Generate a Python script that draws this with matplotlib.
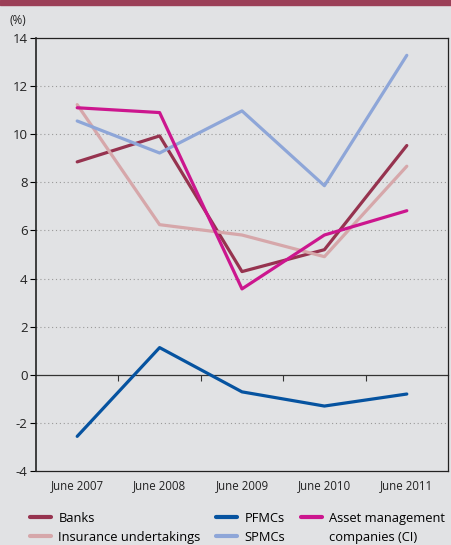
from matplotlib import pyplot as plt
from matplotlib.lines import Line2D
import numpy as np

years = ["June 2007", "June 2008", "June 2009", "June 2010", "June 2011"]
banks = [8.85, 9.93, 4.29, 5.20, 9.53]
insurance = [11.23, 6.24, 5.81, 4.91, 8.67]
pfmcs = [-2.56, 1.13, -0.71, -1.30, -0.80]
spmcs = [10.55, 9.22, 10.97, 7.86, 13.28]
asset_mgmt = [11.10, 10.90, 3.57, 5.81, 6.82]

bg = "#e1e2e4"
plt.rcParams["font.family"] = ["Open Sans", "DejaVu Sans"]
plt.rcParams["font.size"] = 9

fig = plt.figure(figsize=(4.52, 5.45), dpi=100, facecolor=bg)
ax = fig.add_axes([36/452, 1 - 471/545, 412/452, 433/545], facecolor=bg)

# maroon band at the top
fig.patches.append(plt.Rectangle((0, 1 - 4.5/545), 1, 4.5/545, transform=fig.transFigure,
                                 color="#9b3f57", zorder=0))

x = np.arange(len(years))
series = [
    ("Banks", banks, "#96334f"),
    ("Insurance undertakings", insurance, "#d6a7aa"),
    ("PFMCs", pfmcs, "#0653a0"),
    ("SPMCs", spmcs, "#8ea6d8"),
    ("Asset management", asset_mgmt, "#cc168e"),
]
for name, vals, col in series:
    ax.plot(x, vals, color=col, linewidth=2.3, solid_capstyle="round", zorder=3)

ax.set_xlim(-0.5, 4.5)
ax.set_ylim(-4, 14)
ax.set_yticks(range(-4, 15, 2))
ax.set_yticklabels([str(v) for v in range(-4, 15, 2)], fontsize=9.5, color="#222222")
ax.set_xticks(x)
ax.set_xticklabels(years, fontsize=8.3, color="#222222")
ax.tick_params(axis="x", length=0, pad=6)
ax.tick_params(axis="y", length=4, width=0.8, direction="out", pad=2)
for v in [-2, 2, 4, 6, 8, 10, 12]:
    ax.axhline(v, color="#9a9a9a", linewidth=0.8, linestyle=(0, (1, 2.5)), zorder=1)
for s in ax.spines.values():
    s.set_color("#222222")
    s.set_linewidth(0.9)
ax.spines["left"].set_linewidth(1.2)

# zero line with category boundary ticks
zero = ax.secondary_xaxis(4/18)
zero.set_xticks([0.5, 1.5, 2.5, 3.5])
zero.set_xticklabels([])
zero.tick_params(length=4, width=0.8, direction="out", color="#333333")
zero.spines["bottom"].set_color("#333333")
zero.spines["bottom"].set_linewidth(0.9)

fig.text(10/452, 1 - 20/545, "(%)", fontsize=8.5, color="#222222", va="center")

handles = [Line2D([], [], color=c, linewidth=3, solid_capstyle="round") for _, _, c in series]
labels = [n for n, _, _ in series]
# second line of the last label, with an invisible handle
handles.append(Line2D([], [], color="none"))
labels.append("companies (CI)")
leg = fig.legend(handles, labels, ncol=3, loc="upper left", bbox_to_anchor=(30/452, 1 - 512/545),
                 frameon=False, fontsize=9.3, handlelength=1.65, handletextpad=0.55,
                 columnspacing=1.2, labelspacing=0.45, borderpad=0, borderaxespad=0)

fig.savefig("out.png", dpi=100, facecolor=bg)
